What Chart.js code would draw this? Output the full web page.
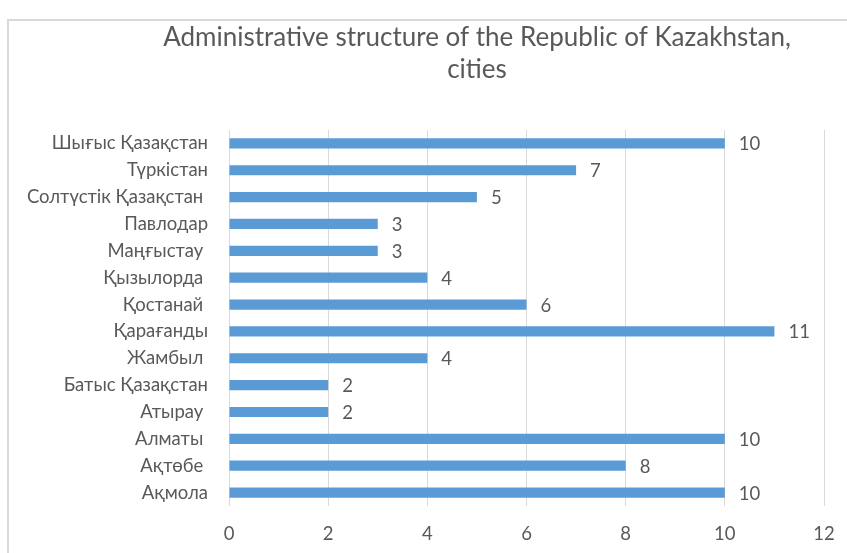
<!DOCTYPE html>
<html lang="en">
<head>
  <meta charset="UTF-8">
  <title>Administrative structure of the Republic of Kazakhstan, cities</title>
  <script src="https://cdn.jsdelivr.net/npm/chart.js@4.4.0/dist/chart.umd.min.js"></script>
  <style>
    html, body { margin: 0; padding: 0; background: #fff; overflow: hidden; }
    #frame {
      position: absolute; left: 7px; top: 19px;
      width: 936px; height: 560px;
      border: 2px solid #d9d9d9;
    }
    #chart { position: absolute; left: 0; top: 0; }
  </style>
</head>
<body>
<div id="frame">
  <canvas id="chart" width="936" height="540"></canvas>
</div>
<script>
const regions = [
  'Шығыс Қазақстан', 'Түркістан', 'Солтүстік Қазақстан ', 'Павлодар', 'Маңғыстау ',
  'Қызылорда ', 'Қостанай ', 'Қарағанды', 'Жамбыл ', 'Батыс Қазақстан',
  'Атырау ', 'Алматы ', 'Ақтөбе ', 'Ақмола'
];
const cities = [10, 7, 5, 3, 3, 4, 6, 11, 4, 2, 2, 10, 8, 10];
const titleLines = ['Administrative structure of the Republic of Kazakhstan,', 'cities'];

const FONT = 'Lato, "Open Sans", sans-serif';
const GREY = '#595959';

// value labels to the right of each bar
const barLabels = {
  id: 'barLabels',
  afterDatasetsDraw(chart) {
    const ctx = chart.ctx;
    const meta = chart.getDatasetMeta(0);
    ctx.save();
    ctx.font = '18.5px ' + FONT;
    ctx.fillStyle = GREY;
    ctx.textAlign = 'left';
    ctx.textBaseline = 'middle';
    meta.data.forEach((bar, i) => {
      ctx.fillText(cities[i], bar.x + 14, bar.y + 1);
    });
    ctx.restore();
  }
};

new Chart(document.getElementById('chart'), {
  type: 'bar',
  data: {
    labels: regions,
    datasets: [{
      data: cities,
      backgroundColor: '#5b9bd5',
      borderWidth: 0,
      categoryPercentage: 1,
      barPercentage: 0.38
    }]
  },
  options: {
    indexAxis: 'y',
    responsive: false,
    animation: false,
    layout: { padding: 0 },
    plugins: {
      legend: { display: false },
      tooltip: { enabled: false },
      title: {
        display: true,
        text: titleLines,
        color: GREY,
        font: { family: FONT, size: 26, weight: 'normal', lineHeight: 1.23 },
        padding: { top: 1, bottom: 44 }
      }
    },
    scales: {
      x: {
        min: 0, max: 12,
        ticks: { stepSize: 2, color: GREY, font: { family: FONT, size: 18.5 }, padding: 17 },
        grid: { color: '#d9d9d9', lineWidth: 1, drawTicks: false },
        border: { display: false },
        afterFit(scale) { scale.height = 55; }
      },
      y: {
        ticks: { color: GREY, font: { family: FONT, size: 18.5 }, padding: 21, autoSkip: false },
        grid: { display: false, drawTicks: false },
        border: { display: false },
        afterFit(scale) { scale.width = 220; }
      },
      // empty space on the right of the plot area (chart object is wider than the view)
      yRight: {
        type: 'category',
        position: 'right',
        ticks: { display: false },
        grid: { display: false, drawTicks: false },
        border: { display: false },
        afterFit(scale) { scale.width = 121; }
      }
    }
  },
  plugins: [barLabels]
});
</script>
</body>
</html>
